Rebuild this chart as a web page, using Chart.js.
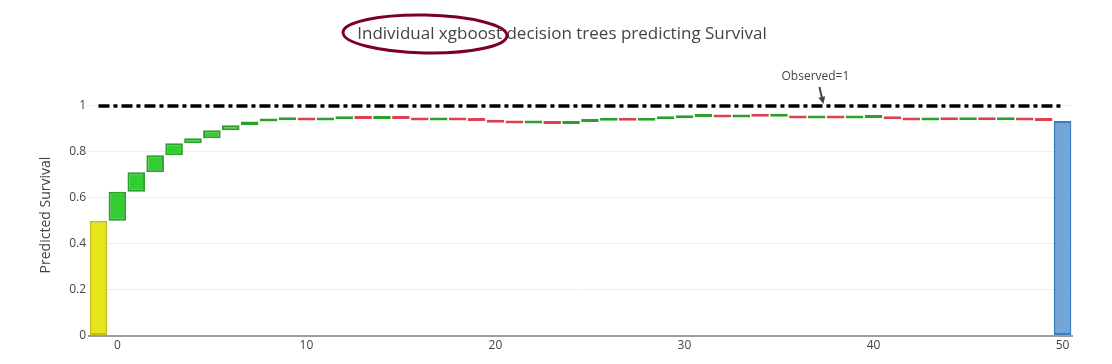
<!DOCTYPE html>
<html>
<head>
<meta charset="utf-8">
<script src="https://cdn.jsdelivr.net/npm/chart.js@4.4.1/dist/chart.umd.min.js"></script>
<style>
  html, body { margin: 0; padding: 0; background: #fff; }
  #wrap { width: 1112px; height: 364px; }
</style>
</head>
<body>
<div id="wrap"><canvas id="treeChart"></canvas></div>
<script>
// starting point (base score) and the final prediction category
const baseLabel = '-1';
const baseValue = 0.5;
const finalLabel = '50';

// contribution of each individual tree
const treeLabels = [
  '0', '1', '2', '3', '4', '5', '6', '7', '8', '9',
  '10', '11', '12', '13', '14', '15', '16', '17', '18', '19',
  '20', '21', '22', '23', '24', '25', '26', '27', '28', '29',
  '30', '31', '32', '33', '34', '35', '36', '37', '38', '39',
  '40', '41', '42', '43', '44', '45', '46', '47', '48', '49'
];
const treeDeltas = [
  0.126, 0.085, 0.074, 0.053, 0.021, 0.035, 0.022, 0.016, 0.006, 0.004,
  -0.005, 0.005, 0.005, -0.004, 0.004, -0.004, -0.006, 0.002, -0.002, -0.002,
  -0.008, -0.003, 0.006, -0.008, 0.008, 0.006, 0.003, -0.003, 0.006, 0.005,
  0.005, 0.002, -0.004, 0.007, -0.004, 0.002, -0.010, 0.003, -0.003, 0.003,
  0.002, -0.008, -0.005, 0.003, -0.002, 0.002, -0.002, 0.002, -0.003, -0.002
];

const observedValue = 1;
const observedText = 'Observed=1';
const titleText = 'Individual xgboost decision trees predicting Survival';
const yTicks = [0, 0.2, 0.4, 0.6, 0.8, 1];

// build the waterfall
const labels = [baseLabel].concat(treeLabels, [finalLabel]);
const bars = [[0, baseValue]];
const fills = ['#e6e61e'];
const borders = ['#c4bd1c'];
let level = baseValue;
treeDeltas.forEach(d => {
  bars.push([level, level + d]);
  fills.push(d >= 0 ? '#32cd32' : '#dc4052');
  borders.push(d >= 0 ? '#2aa02a' : '#dc4052');
  level += d;
});
bars.push([0, level]);
fills.push('#73a6d6');
borders.push('#3a7dbf');

const decorations = {
  id: 'decorations',
  afterDraw(chart) {
    const {ctx, scales: {x, y}} = chart;
    ctx.save();
    // title
    ctx.fillStyle = '#444';
    ctx.font = '17px "Open Sans"';
    ctx.textAlign = 'center';
    ctx.textBaseline = 'middle';
    ctx.fillText(titleText, 562, 34);

    // marker ellipse around the first words of the title
    ctx.strokeStyle = '#7c0022';
    ctx.lineWidth = 3;
    ctx.beginPath();
    ctx.ellipse(425, 34, 82, 19, 0.02, 0, Math.PI * 2);
    ctx.stroke();

    // "Observed=1" annotation with arrow
    const tipX = x.getPixelForValue(38.35);
    const tipY = y.getPixelForValue(observedValue) - 2;
    ctx.font = '12px "Open Sans"';
    ctx.fillText(observedText, tipX - 8, 77);
    const sx = tipX - 4, sy = 87;
    const ang = Math.atan2(tipY - sy, tipX - sx);
    ctx.strokeStyle = '#444';
    ctx.lineWidth = 2;
    ctx.beginPath();
    ctx.moveTo(sx, sy);
    ctx.lineTo(tipX - 5 * Math.cos(ang), tipY - 5 * Math.sin(ang));
    ctx.stroke();
    ctx.beginPath();
    ctx.moveTo(tipX, tipY);
    ctx.lineTo(tipX - 8 * Math.cos(ang - 0.45), tipY - 8 * Math.sin(ang - 0.45));
    ctx.lineTo(tipX - 8 * Math.cos(ang + 0.45), tipY - 8 * Math.sin(ang + 0.45));
    ctx.closePath();
    ctx.fill();
    ctx.restore();
  }
};

new Chart(document.getElementById('treeChart'), {
  data: {
    labels: labels,
    datasets: [
      {
        type: 'line',
        data: [{x: baseLabel, y: observedValue}, {x: finalLabel, y: observedValue}],
        borderColor: '#000',
        borderWidth: 3.5,
        borderDash: [11, 4, 4, 4],
        pointRadius: 0,
        order: 0
      },
      {
        type: 'bar',
        data: bars,
        backgroundColor: fills,
        borderColor: borders,
        borderWidth: 2,
        borderSkipped: false,
        minBarLength: 3,
        categoryPercentage: 0.93,
        barPercentage: 1,
        order: 1
      }
    ]
  },
  options: {
    responsive: true,
    maintainAspectRatio: false,
    animation: false,
    layout: { padding: { left: 0, right: 40, top: 94.5, bottom: 8 } },
    plugins: {
      legend: { display: false },
      tooltip: { enabled: false },
      title: { display: false }
    },
    scales: {
      x: {
        type: 'category',
        offset: true,
        grid: { display: false, drawTicks: false },
        border: { display: true, color: '#9d9d9d', width: 2 },
        ticks: {
          autoSkip: false,
          maxRotation: 0,
          padding: 3,
          color: '#444',
          font: { family: 'Open Sans', size: 12 },
          callback: function (v) {
            const lab = this.getLabelForValue(v);
            return Number(lab) >= 0 && Number(lab) % 10 === 0 ? lab : '';
          }
        }
      },
      y: {
        min: 0,
        max: 1.05,
        afterFit: s => { s.width = 89; },
        afterBuildTicks: s => { s.ticks = yTicks.map(v => ({value: v})); },
        grid: { color: '#eeeeee', drawTicks: false },
        border: { display: false },
        ticks: {
          padding: 3,
          color: '#444',
          font: { family: 'Open Sans', size: 12 },
          callback: v => String(v)
        },
        title: {
          display: true,
          text: 'Predicted Survival',
          color: '#444',
          font: { family: 'Open Sans', size: 14 },
          padding: { top: 38, bottom: 0 }
        }
      }
    }
  },
  plugins: [decorations]
});
</script>
</body>
</html>
